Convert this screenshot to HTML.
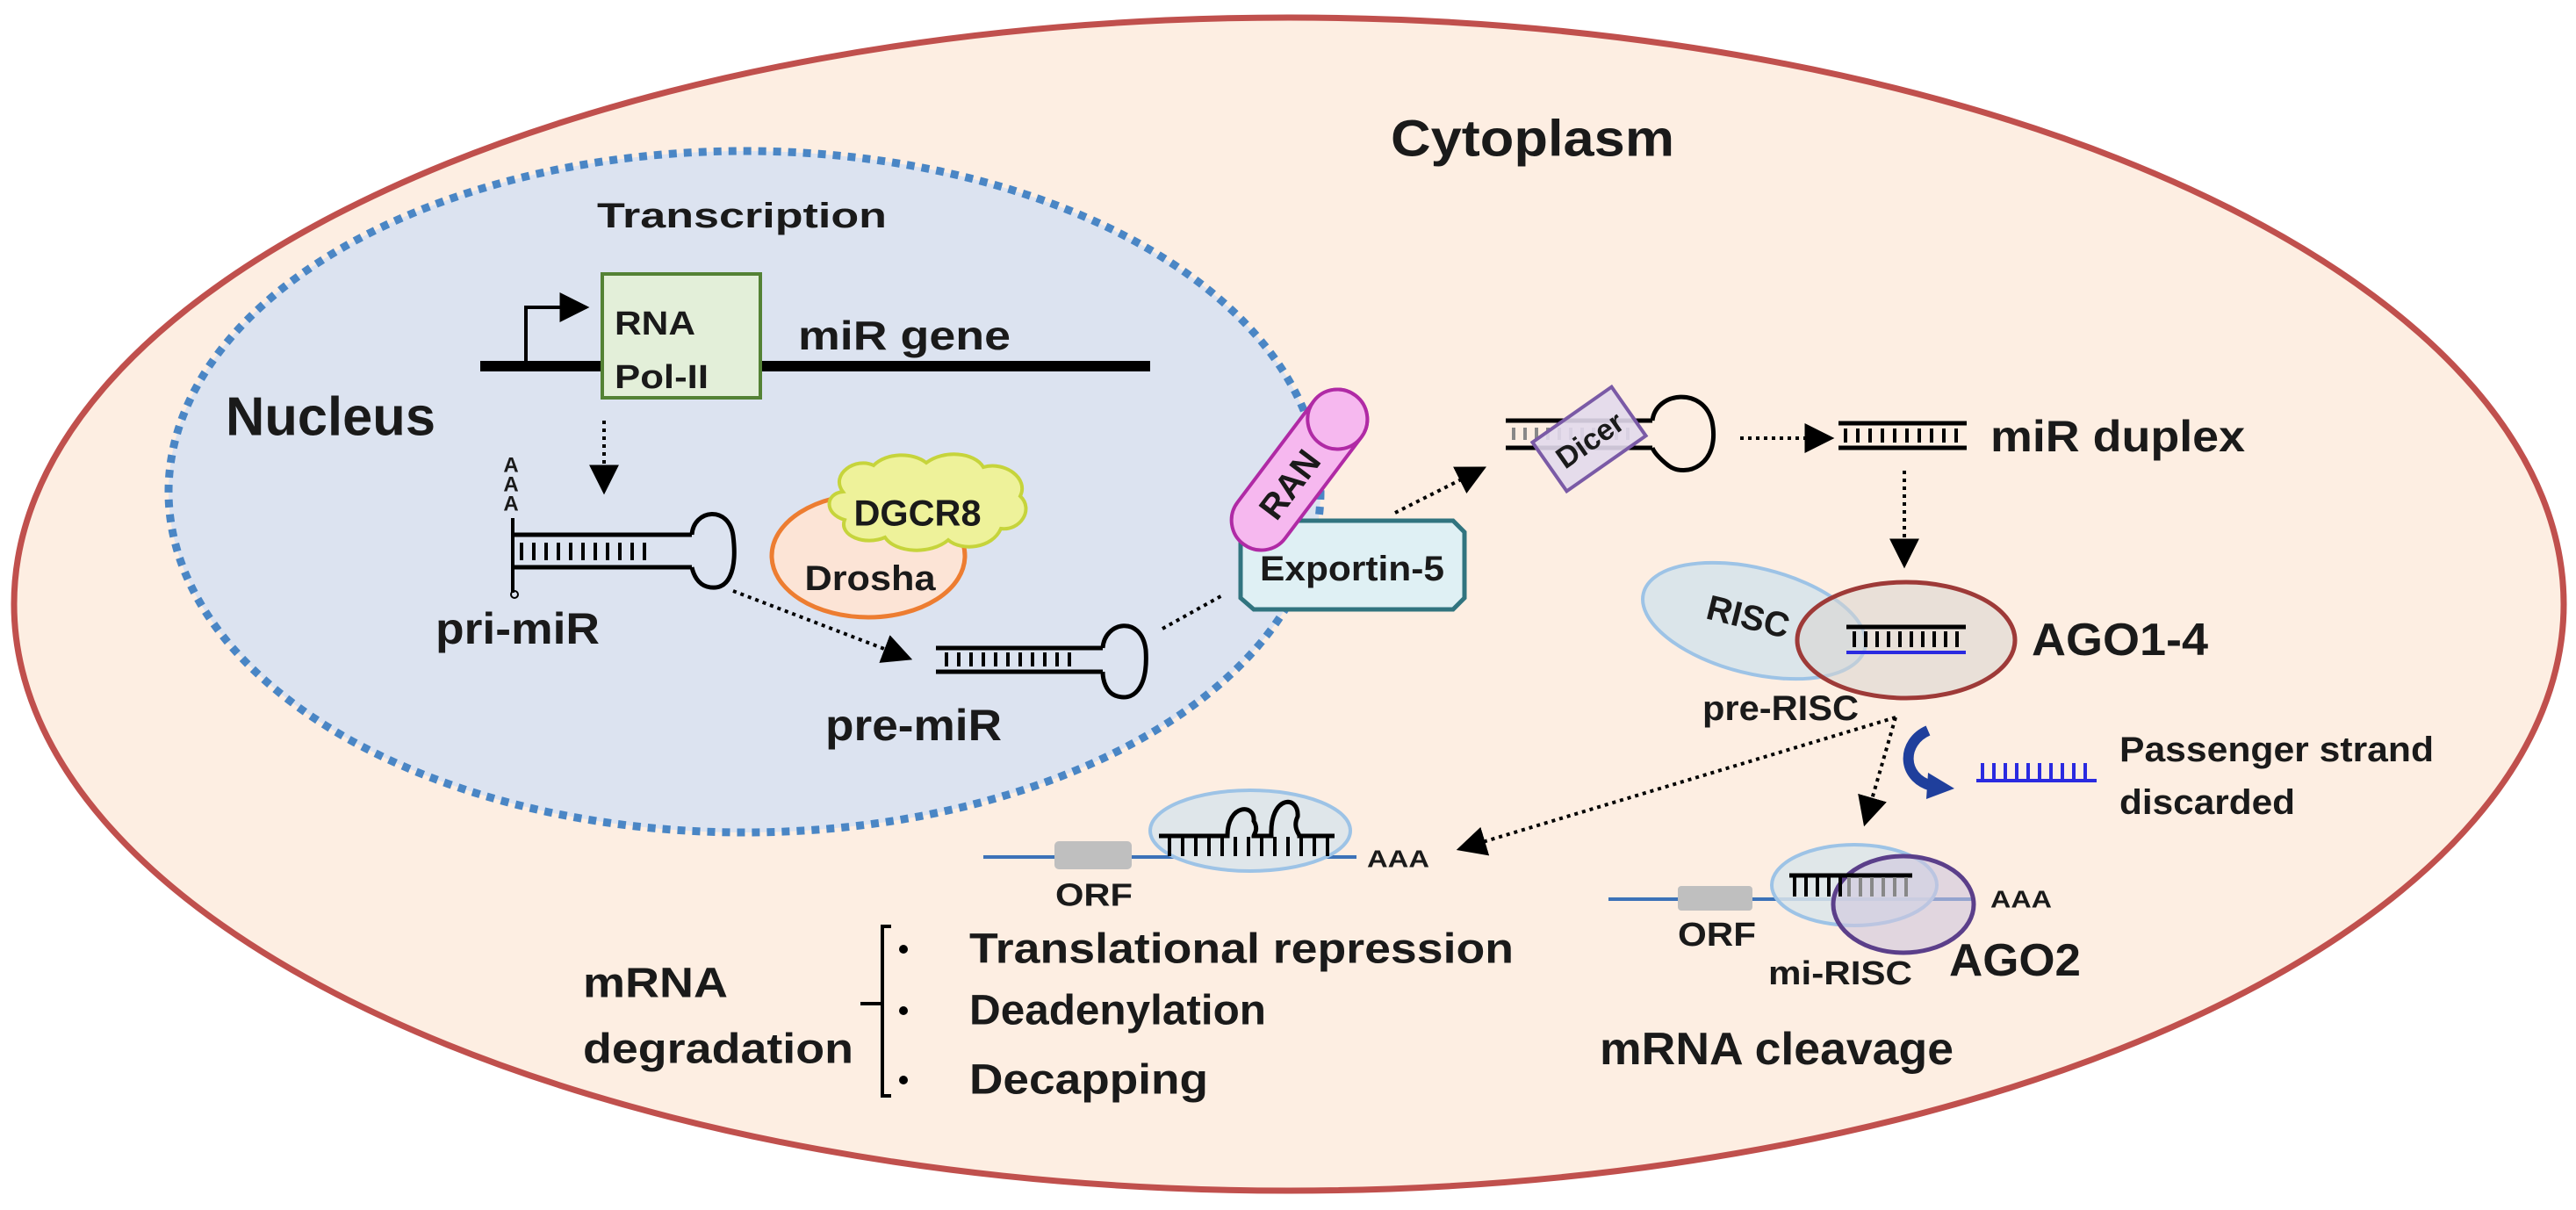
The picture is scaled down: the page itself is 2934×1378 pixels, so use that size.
<!DOCTYPE html>
<html><head><meta charset="utf-8"><style>
html,body{margin:0;padding:0;background:#fff;width:2934px;height:1378px;overflow:hidden}
svg{display:block}
text{font-family:"Liberation Sans",sans-serif;font-weight:bold;fill:#1a1a1a}
</style></head><body>
<svg width="2934" height="1378" viewBox="0 0 2934 1378" xmlns="http://www.w3.org/2000/svg">
<defs>
<marker id="a" viewBox="0 0 10 10" refX="9" refY="5" markerWidth="34" markerHeight="34" markerUnits="userSpaceOnUse" orient="auto"><path d="M0,0 L10,5 L0,10 z" fill="#000"/></marker>
</defs>
<!-- cell -->
<ellipse cx="1468" cy="688" rx="1452" ry="668" fill="#fdeee2" stroke="#c0504d" stroke-width="7"/>
<!-- nucleus -->
<ellipse cx="848" cy="560" rx="656" ry="388" fill="#dce3f0" stroke="#4a86c5" stroke-width="9" stroke-dasharray="9 8"/>

<text x="1584" y="158" font-size="58" dominant-baseline="central" textLength="323" lengthAdjust="spacingAndGlyphs">Cytoplasm</text>
<text x="680" y="246" font-size="40" dominant-baseline="central" textLength="330" lengthAdjust="spacingAndGlyphs">Transcription</text>
<text x="257" y="475" font-size="62" dominant-baseline="central" textLength="239" lengthAdjust="spacingAndGlyphs">Nucleus</text>

<!-- gene -->
<line x1="547" y1="417" x2="1310" y2="417" stroke="#000" stroke-width="12"/>
<path d="M599,417 V350 H668" fill="none" stroke="#000" stroke-width="4" marker-end="url(#a)"/>
<rect x="686" y="312" width="180" height="141" fill="#e3efd9" stroke="#548235" stroke-width="4"/>
<text x="700" y="369" font-size="38" dominant-baseline="central" textLength="92" lengthAdjust="spacingAndGlyphs">RNA</text>
<text x="700" y="430" font-size="38" dominant-baseline="central" textLength="107" lengthAdjust="spacingAndGlyphs">Pol-II</text>
<text x="909" y="382" font-size="46" dominant-baseline="central" textLength="242" lengthAdjust="spacingAndGlyphs">miR gene</text>
<line x1="688" y1="479" x2="688" y2="560" stroke="#000" stroke-width="4" stroke-dasharray="4 5" marker-end="url(#a)"/>

<!-- pri-miR -->
<text x="582" y="530" font-size="24" text-anchor="middle" dominant-baseline="central">A</text>
<text x="582" y="552" font-size="24" text-anchor="middle" dominant-baseline="central">A</text>
<text x="582" y="574" font-size="24" text-anchor="middle" dominant-baseline="central">A</text>
<path d="M584,590 V675" stroke="#000" stroke-width="4" fill="none"/>
<circle cx="586" cy="677" r="4" fill="none" stroke="#000" stroke-width="2"/>
<path d="M584,609 H788 M584,646 H788" stroke="#000" stroke-width="5" fill="none"/>
<line x1="592" y1="628" x2="745" y2="628" stroke="#000" stroke-width="20" stroke-dasharray="4 10"/>
<path d="M788,609 C790,580 830,575 835,610 C840,650 830,675 805,668 C795,665 790,655 788,646" fill="none" stroke="#000" stroke-width="5"/>
<text x="496" y="716" font-size="50" dominant-baseline="central" textLength="187" lengthAdjust="spacingAndGlyphs">pri-miR</text>

<!-- Drosha / DGCR8 -->
<ellipse cx="989" cy="633" rx="110" ry="70" fill="#fce4d6" stroke="#ed7d31" stroke-width="5"/>
<path d="M960,560 C945,540 975,520 995,530 C1010,515 1040,515 1055,527 C1075,512 1110,515 1120,532 C1145,525 1172,545 1162,565 C1178,580 1162,605 1140,602 C1130,625 1095,628 1080,615 C1060,632 1020,630 1008,612 C985,622 955,610 962,592 C938,585 940,562 960,560 Z" fill="#eef29a" stroke="#c6d43b" stroke-width="4"/>
<text x="1045" y="584" font-size="42" text-anchor="middle" dominant-baseline="central" textLength="145" lengthAdjust="spacingAndGlyphs">DGCR8</text>
<text x="991" y="659" font-size="40" text-anchor="middle" dominant-baseline="central" textLength="149" lengthAdjust="spacingAndGlyphs">Drosha</text>
<line x1="835" y1="673" x2="1036" y2="750" stroke="#000" stroke-width="4" stroke-dasharray="4 5" marker-end="url(#a)"/>

<!-- pre-miR -->
<path d="M1066,738 H1256 M1066,765 H1256" stroke="#000" stroke-width="5" fill="none"/>
<line x1="1076" y1="751" x2="1222" y2="751" stroke="#000" stroke-width="16" stroke-dasharray="4 10"/>
<path d="M1256,738 C1258,708 1300,700 1305,740 C1308,785 1290,800 1270,792 C1260,788 1256,775 1256,765" fill="none" stroke="#000" stroke-width="5"/>
<text x="940" y="826" font-size="50" dominant-baseline="central" textLength="201" lengthAdjust="spacingAndGlyphs">pre-miR</text>
<line x1="1324" y1="716" x2="1394" y2="677" stroke="#000" stroke-width="4" stroke-dasharray="4 5"/>

<!-- RAN + Exportin -->
<path d="M1428,593 H1655 L1668,606 V681 L1655,694 H1428 L1413,681 V606 Z" fill="#dff0f4" stroke="#31747f" stroke-width="5"/>
<g transform="translate(1480,535) rotate(-53)">
<rect x="-106" y="-34" width="212" height="68" rx="34" fill="#f6b8ef" stroke="#b02aa5" stroke-width="4"/>
<ellipse cx="72" cy="0" rx="34" ry="34" fill="#f6b8ef" stroke="#b02aa5" stroke-width="4"/>
<text x="-20" y="2" font-size="40" text-anchor="middle" dominant-baseline="central">RAN</text>
</g>
<text x="1540" y="648" font-size="40" text-anchor="middle" dominant-baseline="central" textLength="210" lengthAdjust="spacingAndGlyphs">Exportin-5</text>
<line x1="1589" y1="584" x2="1690" y2="533" stroke="#000" stroke-width="4" stroke-dasharray="4 5" marker-end="url(#a)"/>

<!-- Dicer -->
<path d="M1715,479 H1882 M1715,510 H1882" stroke="#000" stroke-width="5" fill="none"/>
<line x1="1722" y1="494" x2="1860" y2="494" stroke="#888" stroke-width="14" stroke-dasharray="4 9"/>
<path d="M1882,479 C1886,446 1940,440 1950,480 C1960,530 1920,545 1900,530 C1890,522 1884,515 1882,510" fill="none" stroke="#000" stroke-width="5"/>
<g transform="translate(1810,500) rotate(-35)">
<rect x="-55" y="-34" width="110" height="68" fill="#e2d9ec" fill-opacity="0.9" stroke="#7a5aa6" stroke-width="4"/>
<text x="0" y="2" font-size="34" text-anchor="middle" dominant-baseline="central">Dicer</text>
</g>
<line x1="1982" y1="499" x2="2086" y2="499" stroke="#000" stroke-width="4" stroke-dasharray="4 5" marker-end="url(#a)"/>

<!-- miR duplex -->
<path d="M2094,482 H2240 M2094,510 H2240" stroke="#000" stroke-width="5" fill="none"/>
<line x1="2100" y1="496" x2="2236" y2="496" stroke="#000" stroke-width="16" stroke-dasharray="4 10"/>
<text x="2267" y="497" font-size="50" dominant-baseline="central" textLength="290" lengthAdjust="spacingAndGlyphs">miR duplex</text>
<line x1="2169" y1="536" x2="2169" y2="644" stroke="#000" stroke-width="4" stroke-dasharray="4 5" marker-end="url(#a)"/>

<!-- RISC / AGO1-4 -->
<ellipse cx="1998" cy="707" rx="130" ry="60" transform="rotate(14 1998 707)" fill="#dbe5ea" stroke="#9dc3e6" stroke-width="4"/>
<ellipse cx="2171" cy="729" rx="124" ry="66" fill="#d9d6d0" fill-opacity="0.55" stroke="#9e3a38" stroke-width="5"/>
<text x="1991" y="703" font-size="40" text-anchor="middle" dominant-baseline="central" transform="rotate(14 1991 703)">RISC</text>
<path d="M2103,714 H2239" stroke="#000" stroke-width="5"/>
<path d="M2103,743 H2239" stroke="#2a2ae0" stroke-width="4"/>
<line x1="2110" y1="728" x2="2236" y2="728" stroke="#000" stroke-width="18" stroke-dasharray="4 9"/>
<text x="2314" y="729" font-size="52" dominant-baseline="central" textLength="201" lengthAdjust="spacingAndGlyphs">AGO1-4</text>
<text x="1939" y="807" font-size="40" dominant-baseline="central" textLength="178" lengthAdjust="spacingAndGlyphs">pre-RISC</text>
<line x1="2159" y1="817" x2="1662" y2="967" stroke="#000" stroke-width="4" stroke-dasharray="4 5" marker-end="url(#a)"/>
<line x1="2159" y1="817" x2="2124" y2="938" stroke="#000" stroke-width="4" stroke-dasharray="4 5" marker-end="url(#a)"/>

<!-- passenger strand -->
<path d="M2196,832 C2166,845 2165,885 2200,895" fill="none" stroke="#1f3f9c" stroke-width="12"/>
<path d="M2196,880 L2226,898 L2194,910 Z" fill="#1f3f9c"/>
<path d="M2251,889 H2388" stroke="#2a2ae0" stroke-width="4"/>
<line x1="2256" y1="878" x2="2384" y2="878" stroke="#2a2ae0" stroke-width="18" stroke-dasharray="4 9"/>
<text x="2414" y="854" font-size="40" dominant-baseline="central" textLength="358" lengthAdjust="spacingAndGlyphs">Passenger strand</text>
<text x="2414" y="914" font-size="40" dominant-baseline="central" textLength="200" lengthAdjust="spacingAndGlyphs">discarded</text>

<!-- left mRNA w/ repression -->
<line x1="1120" y1="976" x2="1545" y2="976" stroke="#3c72b8" stroke-width="4"/>
<rect x="1201" y="958" width="88" height="32" rx="5" fill="#bfbfbf"/>
<ellipse cx="1424" cy="946" rx="114" ry="46" fill="#dfe6ea" stroke="#9dc3e6" stroke-width="4"/>
<path d="M1320,952 H1398 C1398,915 1430,915 1428,935 C1434,945 1428,950 1428,952 H1448 C1446,905 1480,905 1478,930 C1472,942 1480,950 1480,952 H1520" fill="none" stroke="#000" stroke-width="5"/>
<line x1="1330" y1="964" x2="1516" y2="964" stroke="#000" stroke-width="22" stroke-dasharray="4 11"/>
<text x="1557" y="978" font-size="28" dominant-baseline="central" textLength="71" lengthAdjust="spacingAndGlyphs">AAA</text>
<text x="1202" y="1019" font-size="36" dominant-baseline="central" textLength="88" lengthAdjust="spacingAndGlyphs">ORF</text>

<!-- mRNA degradation list -->
<text x="664" y="1120" font-size="48" dominant-baseline="central" textLength="165" lengthAdjust="spacingAndGlyphs">mRNA</text>
<text x="664" y="1195" font-size="48" dominant-baseline="central" textLength="308" lengthAdjust="spacingAndGlyphs">degradation</text>
<path d="M1015,1055 H1005 V1143 H980 M1005,1143 V1248 H1015" fill="none" stroke="#000" stroke-width="4"/>
<circle cx="1029" cy="1081" r="5" fill="#000"/>
<circle cx="1029" cy="1151" r="5" fill="#000"/>
<circle cx="1029" cy="1230" r="5" fill="#000"/>
<text x="1104" y="1081" font-size="48" dominant-baseline="central" textLength="620" lengthAdjust="spacingAndGlyphs">Translational  repression</text>
<text x="1104" y="1151" font-size="48" dominant-baseline="central" textLength="338" lengthAdjust="spacingAndGlyphs">Deadenylation</text>
<text x="1104" y="1230" font-size="48" dominant-baseline="central" textLength="272" lengthAdjust="spacingAndGlyphs">Decapping</text>

<!-- mRNA cleavage -->
<line x1="1832" y1="1024" x2="2248" y2="1024" stroke="#3c72b8" stroke-width="4"/>
<rect x="1911" y="1009" width="85" height="28" rx="4" fill="#bfbfbf"/>
<ellipse cx="2112" cy="1008" rx="94" ry="46" fill="#dbe5ea" fill-opacity="0.85" stroke="#9dc3e6" stroke-width="4"/>
<ellipse cx="2168" cy="1030" rx="80" ry="55" fill="#cfc7dd" fill-opacity="0.6" stroke="#5b3f8a" stroke-width="5"/>
<path d="M2038,997 H2178" stroke="#000" stroke-width="5"/>
<line x1="2042" y1="1010" x2="2100" y2="1010" stroke="#000" stroke-width="22" stroke-dasharray="4 9"/>
<line x1="2104" y1="1010" x2="2176" y2="1010" stroke="#888" stroke-width="22" stroke-dasharray="4 9"/>
<text x="2267" y="1024" font-size="28" dominant-baseline="central" textLength="70" lengthAdjust="spacingAndGlyphs">AAA</text>
<text x="1911" y="1065" font-size="38" dominant-baseline="central" textLength="89" lengthAdjust="spacingAndGlyphs">ORF</text>
<text x="2014" y="1109" font-size="38" dominant-baseline="central" textLength="164" lengthAdjust="spacingAndGlyphs">mi-RISC</text>
<text x="2220" y="1094" font-size="52" dominant-baseline="central" textLength="150" lengthAdjust="spacingAndGlyphs">AGO2</text>
<text x="1822" y="1195" font-size="52" dominant-baseline="central" textLength="403" lengthAdjust="spacingAndGlyphs">mRNA cleavage</text>
</svg>
</body></html>
